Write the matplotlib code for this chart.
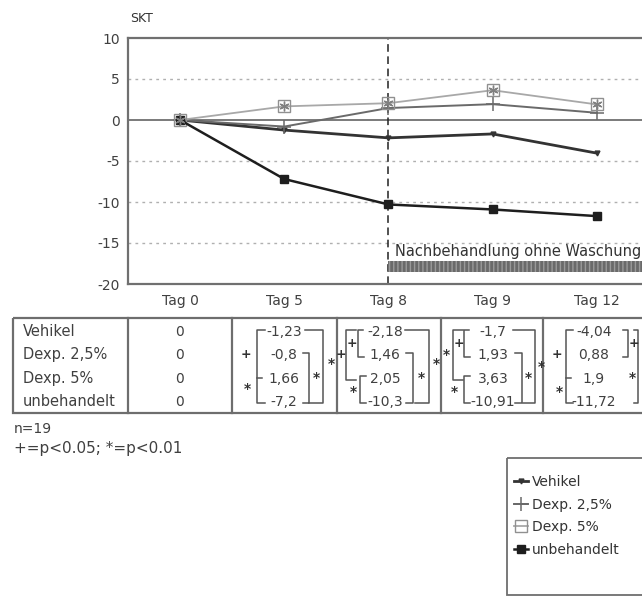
import matplotlib
matplotlib.use("Agg")
import matplotlib.pyplot as plt
from matplotlib.patches import Rectangle

plt.rcParams['font.family'] = ['DejaVu Sans']
plt.rcParams['axes.unicode_minus'] = False

# ---------------- data ----------------
days = ["Tag 0", "Tag 5", "Tag 8", "Tag 9", "Tag 12"]
series_names = ["Vehikel", "Dexp. 2,5%", "Dexp. 5%", "unbehandelt"]
vehikel = [0, -1.23, -2.18, -1.7, -4.04]
dexp25 = [0, -0.8, 1.46, 1.93, 0.88]
dexp5 = [0, 1.66, 2.05, 3.63, 1.9]
unbehandelt = [0, -7.2, -10.3, -10.91, -11.72]
yticks = [10, 5, 0, -5, -10, -15, -20]
grid_levels = [5, -5, -10, -15]
phase_start = "Tag 8"
phase_label = "Nachbehandlung ohne Waschung"
n_text = "n=19"
sig_text = "+=p<0.05; *=p<0.01"

all_series = [vehikel, dexp25, dexp5, unbehandelt]

W, H = 642, 598
fig = plt.figure(figsize=(W / 100, H / 100), dpi=100)
txt = '#404040'

# main axes (right edge runs past the figure as in the cropped original)
px_left, px_right, px_top, px_bot = 128, 652, 38, 284
ax = fig.add_axes([px_left / W, 1 - px_bot / H, (px_right - px_left) / W, (px_bot - px_top) / H])
x = list(range(len(days)))
ax.set_xlim(-0.5, 4.53)
ax.set_ylim(-20, 10)

for g in grid_levels:
    ax.axhline(g, color='#b0b0b0', lw=1.0, ls=(0, (2, 3)), zorder=1)
ax.axhline(0, color='#707070', lw=1.3, zorder=1)
xi = days.index(phase_start)
ax.axvline(xi, color='#222222', lw=1.1, ls=(0, (5, 3)), zorder=2)

styles = [
    dict(color='#333333', lw=2.0, marker='v', ms=3.5, mfc='#333333', mec='#333333'),
    dict(color='#6a6a6a', lw=1.4, marker='+', ms=10, mew=1.1),
    dict(color='#a8a8a8', lw=1.3, marker='s', ms=8, mfc='none', mec='#909090', mew=1.0),
    dict(color='#1e1e1e', lw=1.8, marker='s', ms=5.5),
]
handles = []
for name, vals, st in zip(series_names, all_series, styles):
    h, = ax.plot(x, vals, label=name, zorder=3, **st)
    handles.append(h)
# asterisk inside the Dexp. 5% squares
ax.plot(x, dexp5, ls='none', marker=(6, 2, 0), ms=7, mec='#808080', mew=1.0, zorder=4)

# phase bar and label
ax.fill_between([xi, 4.53], -18.55, -17.25, color='#6a6a6a', edgecolor='#9a9a9a',
                hatch='||||', lw=0, zorder=2)
ax.text(xi + 0.06, -16.0, phase_label, fontsize=10.5, color='#333333', ha='left', va='center')

ax.set_yticks(yticks)
ax.set_yticklabels([str(v) for v in yticks])
ax.set_xticks(x)
ax.set_xticklabels(days)
ax.tick_params(axis='both', length=0, labelsize=10, labelcolor=txt)
ax.tick_params(axis='x', pad=7)
ax.tick_params(axis='y', pad=6)
for s in ['left', 'top', 'bottom']:
    ax.spines[s].set_color('#707070')
    ax.spines[s].set_linewidth(1.6)
ax.spines['right'].set_visible(False)
fig.text(130 / W, 1 - 18 / H, "SKT", fontsize=9, color='#333333', va='center', ha='left')

# ---------------- overlay for the value table ----------------
ov = fig.add_axes([0, 0, 1, 1], facecolor='none')
ov.set_xlim(0, W)
ov.set_ylim(H, 0)
ov.axis('off')

tbl_top, tbl_bot, tbl_left = 318, 413, 13
lc = '#6e6e6e'
ov.add_patch(Rectangle((tbl_left, tbl_top), 700, tbl_bot - tbl_top, fill=False, ec=lc, lw=1.6))
for xd in [128, 232, 337, 441, 543]:
    ov.plot([xd, xd], [tbl_top, tbl_bot], color=lc, lw=1.6)
rows = [332, 355, 379, 402]
for r, name in zip(rows, series_names):
    ov.text(23, r, name, fontsize=10.5, color=txt, va='center', ha='left')

centers = [180, 284, 385, 493, 594]


def fmt(v):
    return "0" if v == 0 else f"{v:g}".replace('.', ',')


for ci, c in enumerate(centers):
    for r, vals in zip(rows, all_series):
        ov.text(c, r, fmt(vals[ci]), fontsize=10, color=txt, va='center', ha='center')

bc = '#555555'


def ry(rr):
    return rows[0] + rr * (rows[1] - rows[0])


def bracket(xv, r0, r1, d, t0=6, t1=6):
    """vertical line at xv from row r0 to r1; ticks pointing in direction d."""
    y0, y1 = ry(r0) - 2, ry(r1) + 2
    ov.plot([xv + d * t0, xv, xv, xv + d * t1], [y0, y0, y1, y1], color=bc, lw=1.1)


def sym(xv, rr, s):
    ov.text(xv, ry(rr), s, fontsize=9 if s == '+' else 10, color='#333333',
            ha='center', va='center', fontweight='bold')


# Tag 5
c = centers[1]
bracket(c - 27, 0, 3, +1, 8, 8)
ov.plot([c - 27, c - 22], [ry(2), ry(2)], color=bc, lw=1.1)
sym(c - 38, 1, '+'); sym(c - 37, 2.5, '*')
bracket(c + 25, 1, 3, -1, 6, 6)
bracket(c + 39, 0, 3, -1, 18, 14)
sym(c + 32, 2, '*'); sym(c + 47, 1.4, '*')
# Tag 8
c = centers[2]
sym(c - 44, 1, '+')
bracket(c - 39, 0, 2, +1, 10, 10)
sym(c - 33, 0.5, '+')
bracket(c - 27, 0, 1, +1, 5, 6)
sym(c - 32, 2.6, '*')
bracket(c - 25, 2, 3, +1, 6, 6)
bracket(c + 28, 1, 3, -1, 7, 7)
bracket(c + 44, 0, 3, -1, 24, 14)
sym(c + 36, 2, '*'); sym(c + 51, 1.4, '*')
# Tag 9
c = centers[3]
sym(c - 47, 1, '*')
bracket(c - 40, 0, 2, +1, 10, 10)
sym(c - 34, 0.5, '+')
bracket(c - 29, 0, 1, +1, 5, 6)
sym(c - 39, 2.6, '*')
bracket(c - 29, 2, 3, +1, 6, 6)
bracket(c + 29, 1, 3, -1, 7, 7)
bracket(c + 42, 0, 3, -1, 22, 12)
sym(c + 35, 2, '*'); sym(c + 48, 1.5, '*')
# Tag 12
c = centers[4]
sym(c - 37, 1, '+')
bracket(c - 28, 0, 3, +1, 7, 7)
ov.plot([c - 28, c - 23], [ry(2), ry(2)], color=bc, lw=1.1)
sym(c - 35, 2.6, '*')
bracket(c + 34, 0, 1, -1, 5, 5)
sym(c + 40, 0.5, '+')
sym(c + 38, 2, '*')
bracket(c + 44, 0, 3, -1, 4, 4)

ov.text(14, 429, n_text, fontsize=10, color=txt, va='center', ha='left')
ov.text(14, 449, sig_text, fontsize=11, color=txt, va='center', ha='left')

# legend box (cropped on the right like the original)
ov.add_patch(Rectangle((507, 458), 200, 137, fill=False, ec='#6e6e6e', lw=1.3))
fig.legend(handles=handles, labels=series_names, loc='upper left',
           bbox_to_anchor=(514 / W, 1 - 475 / H), frameon=False, fontsize=10,
           labelspacing=0.62, handlelength=1.0, handletextpad=0.3,
           borderpad=0, borderaxespad=0, labelcolor='#333333')

fig.savefig("out.png", dpi=100)
